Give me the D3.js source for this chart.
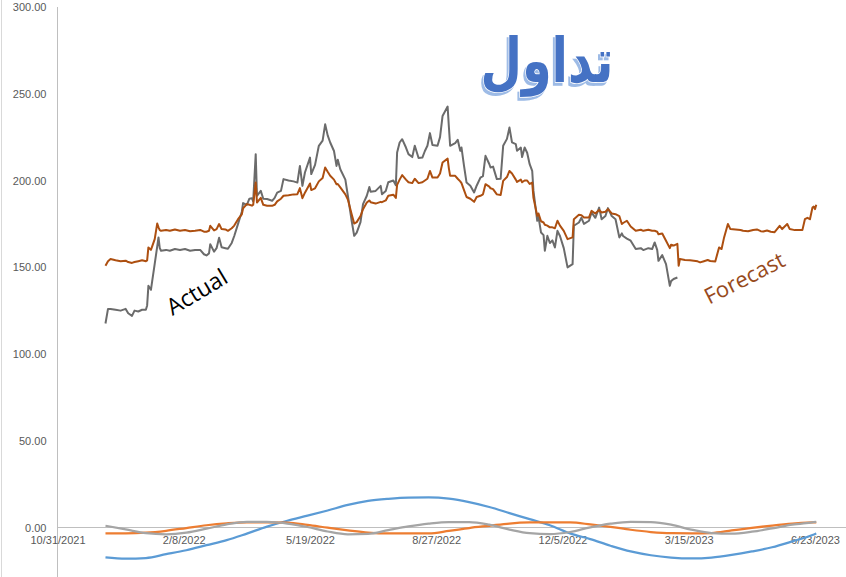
<!DOCTYPE html>
<html><head><meta charset="utf-8">
<script src="https://cdn.jsdelivr.net/npm/d3@7/dist/d3.min.js"></script>
<style>html,body{margin:0;padding:0;background:#fff;}svg{display:block;}</style>
</head><body>
<svg id="chart" width="846" height="577"></svg>
<script>
const dates = ["2021-12-08","2021-12-10","2021-12-12","2021-12-16","2021-12-20","2021-12-24","2021-12-26","2021-12-29","2021-12-31","2022-01-03","2022-01-06","2022-01-09","2022-01-10","2022-01-11","2022-01-13","2022-01-14","2022-01-16","2022-01-18","2022-01-19","2022-01-20","2022-01-21","2022-01-25","2022-01-28","2022-02-01","2022-02-05","2022-02-09","2022-02-13","2022-02-17","2022-02-21","2022-02-24","2022-02-26","2022-02-28","2022-03-01","2022-03-04","2022-03-06","2022-03-08","2022-03-10","2022-03-13","2022-03-15","2022-03-18","2022-03-20","2022-03-23","2022-03-26","2022-03-27","2022-03-30","2022-04-01","2022-04-03","2022-04-04","2022-04-06","2022-04-07","2022-04-10","2022-04-12","2022-04-15","2022-04-19","2022-04-21","2022-04-23","2022-04-26","2022-04-28","2022-05-02","2022-05-06","2022-05-09","2022-05-11","2022-05-13","2022-05-15","2022-05-19","2022-05-20","2022-05-23","2022-05-26","2022-05-29","2022-05-31","2022-06-02","2022-06-04","2022-06-07","2022-06-09","2022-06-10","2022-06-12","2022-06-16","2022-06-18","2022-06-21","2022-06-23","2022-06-25","2022-06-28","2022-06-30","2022-07-03","2022-07-05","2022-07-06","2022-07-10","2022-07-14","2022-07-15","2022-07-18","2022-07-20","2022-07-24","2022-07-26","2022-07-27","2022-07-29","2022-07-31","2022-08-03","2022-08-05","2022-08-08","2022-08-10","2022-08-13","2022-08-16","2022-08-18","2022-08-20","2022-08-22","2022-08-24","2022-08-28","2022-08-30","2022-09-01","2022-09-05","2022-09-06","2022-09-07","2022-09-11","2022-09-13","2022-09-15","2022-09-16","2022-09-18","2022-09-20","2022-09-23","2022-09-26","2022-09-28","2022-10-01","2022-10-03","2022-10-05","2022-10-08","2022-10-09","2022-10-11","2022-10-14","2022-10-17","2022-10-19","2022-10-22","2022-10-24","2022-10-26","2022-10-29","2022-10-30","2022-11-02","2022-11-03","2022-11-05","2022-11-07","2022-11-09","2022-11-11","2022-11-12","2022-11-15","2022-11-16","2022-11-18","2022-11-20","2022-11-21","2022-11-23","2022-11-25","2022-11-27","2022-11-29","2022-12-01","2022-12-03","2022-12-06","2022-12-09","2022-12-13","2022-12-14","2022-12-18","2022-12-20","2022-12-22","2022-12-26","2022-12-28","2022-12-31","2023-01-03","2023-01-05","2023-01-08","2023-01-10","2023-01-13","2023-01-16","2023-01-19","2023-01-21","2023-01-22","2023-01-25","2023-01-28","2023-02-01","2023-02-05","2023-02-07","2023-02-11","2023-02-14","2023-02-16","2023-02-18","2023-02-19","2023-02-22","2023-02-25","2023-02-28","2023-03-01","2023-03-03","2023-03-06","2023-03-07","2023-03-08","2023-03-12","2023-03-16","2023-03-19","2023-03-22","2023-03-24","2023-03-27","2023-03-30","2023-04-01","2023-04-05","2023-04-08","2023-04-10","2023-04-12","2023-04-15","2023-04-17","2023-04-21","2023-04-25","2023-04-27","2023-05-01","2023-05-05","2023-05-08","2023-05-11","2023-05-13","2023-05-16","2023-05-19","2023-05-22","2023-05-26","2023-05-28","2023-06-01","2023-06-03","2023-06-07","2023-06-13","2023-06-15","2023-06-17","2023-06-19","2023-06-21","2023-06-22","2023-06-23","2023-06-24"];

const actual = [117.6,126,126,125.5,125,126,123.5,122,125,124.5,125.5,125.5,128,139.3,137,142,152,162,167.2,161,159.5,160,159.5,160.5,160,160.5,159.5,160,160,157.5,156.8,158,163.3,159,161,167,161.5,161,160.7,164,168,175,182,187,186,189.5,189.8,188,215.2,191.2,194,189.5,189.3,188.3,190,193,194,200.8,200,199.5,198.8,208.4,196.9,204.6,213.2,203.7,209,220,223,232.4,226,221.9,217,208.4,212,206.5,200.5,191.2,176.8,168.1,170,176,186.4,191.2,196.3,193.5,194,196.9,192.1,194,199,200,197.3,216.1,221.9,223.8,219,215.2,213.5,220,213,213.2,217,220,227.3,220.5,220,225,237.2,242.6,231,220,221.5,223.5,217.1,219,208.4,198.8,197,193.1,197,201.7,202.5,214.2,209.5,207.5,208,200.8,201,220,224,230.5,222,221,217.1,219,213.5,219,216,209.4,205.6,194,176.8,179,170,168.5,159.5,168.1,164,165.5,161.4,171,168,161,149.9,151.8,173.9,175.8,178.5,175,176.8,181.6,178.5,184.4,177.7,179.5,184.1,179.5,177.7,167.2,169.5,168,166.5,165.3,160.5,161,159.9,161,160.5,164.3,160,153.7,157,151.8,139.3,142,143.2,144.1,null,null,null,null,null,null,null,null,null,null,null,null,null,null,null,null,null,null,null,null,null,null,null,null,null,null,null,null,null,null,null,null,null,null,null,null,null,null,null,null];

const forecast = [150.9,153.5,154.7,154,153.5,153.8,153,152.5,153,153.5,154,153.5,154,161.4,160,162,166.2,175.2,173,171.4,171,171.5,171,171.8,171,171.5,170.8,171,171.5,170.5,170.5,171,173.9,171.2,172,174.9,172,171.8,171,172.5,174,177.7,180.5,184,186.4,186,185.5,186,198.8,187.3,190,186,185.5,185.4,186,188,189.5,191.2,191.5,192,192.1,195.6,189.8,193,198.3,194.5,195.5,199.5,201.5,207.5,205,202.7,200.5,197.9,198,196,192,189,180.6,175.2,176,179.5,183.5,187.3,188.5,187.5,186.7,187.7,187.5,188.5,191.2,191.8,190,197.5,200.5,203.1,200.5,199,198.5,201,198.5,199,200,201,205.5,201.7,201.7,204,210.4,212.6,207,202.7,202.7,201,199.5,198.5,194.5,190.5,189.5,187.7,190.5,191.2,192,197.9,196.5,195.5,195,192,191.6,199.8,202,205.5,204,200.5,199.2,200.5,199,200,200,198,198.8,190,179.6,181,176.5,175.8,174.5,174,173,173,172.5,176.8,174,171,166.2,167.2,177.7,180.2,180,178.7,178.7,182.5,181,183,181.6,182,183.5,181,180.6,179.5,174.9,175.5,176.8,173.5,171,171.6,171,171.6,171,171,170.5,169,169.5,165.3,161,163,162.5,163.5,150.9,154.7,154.2,154,153.7,153.4,152.8,153.5,154.2,153.6,153.3,161.4,160.5,167.2,174.9,172,171.8,171.5,171,170.8,171.5,171.8,170.8,170.6,171.2,170.5,170.2,173.9,172,174.9,172,171.4,171.4,177.7,178.5,177.7,184.4,185,183.5,186];

const waveDates = ["2021-12-08","2021-12-24","2022-01-09","2022-01-25","2022-02-10","2022-02-26","2022-03-14","2022-03-30","2022-04-15","2022-05-01","2022-05-17","2022-06-02","2022-06-18","2022-07-04","2022-07-20","2022-08-05","2022-08-21","2022-09-06","2022-09-22","2022-10-08","2022-10-24","2022-11-09","2022-11-25","2022-12-11","2022-12-27","2023-01-12","2023-01-28","2023-02-13","2023-03-01","2023-03-17","2023-04-02","2023-04-18","2023-05-04","2023-05-20","2023-06-05","2023-06-21","2023-06-24"];
const waveBlue = [-17.2,-18.0,-17.6,-15.4,-13.1,-10.2,-7.3,-3.5,0.5,3.9,6.8,9.8,13.0,15.3,16.5,17.2,17.3,16.6,14.6,11.8,8.3,4.8,1.3,-3.4,-6.7,-10.5,-13.8,-16.0,-17.3,-17.8,-17.3,-15.8,-13.8,-11.4,-8.0,-4.3,-3.4];
const waveOrange = [-3.4,-3.4,-3.0,-1.9,-0.3,1.3,2.4,3.0,3.0,2.8,1.5,-0.1,-1.6,-2.9,-3.4,-3.4,-3.4,-2.0,-0.3,1.0,2.3,2.9,3.0,2.9,1.8,0.4,-1.3,-2.6,-3.3,-3.4,-3.2,-1.7,-0.2,1.1,2.2,2.9,3.0];
const waveGray = [1.0,-1.1,-3.3,-3.9,-3.0,-0.7,1.8,3.2,3.2,2.3,0.3,-2.3,-3.9,-3.7,-1.5,0.6,2.2,3.1,3.1,1.6,-1.2,-3.3,-3.8,-2.6,0.1,2.2,3.3,3.1,1.6,-1.2,-3.2,-3.5,-2.4,-0.5,1.6,3.0,3.3];

const yTicks = [0,50,100,150,200,250,300];
const xTickLabels = ["10/31/2021","2/8/2022","5/19/2022","8/27/2022","12/5/2022","3/15/2023","6/23/2023"];
const titleText = "تداول";
const labelActual = "Actual";
const labelForecast = "Forecast";

const parse = d3.timeParse("%Y-%m-%d");
const fmtTick = d3.timeFormat("%-m/%-d/%Y");
const svg = d3.select("#chart");

const x = d3.scaleTime().domain([parse("2021-10-31"), parse("2023-06-23")]).range([57.5, 815]);
const y = d3.scaleLinear().domain([0, 300]).range([527.5, 7]);

// filter for the title's light-blue offset shadow
const defs = svg.append("defs");
const f = defs.append("filter").attr("id","titleShadow").attr("x","-20%").attr("y","-20%").attr("width","140%").attr("height","140%");
f.append("feOffset").attr("in","SourceAlpha").attr("dx",-3).attr("dy",3).attr("result","off");
f.append("feFlood").attr("flood-color","#9DBBE6").attr("result","fl");
f.append("feComposite").attr("in","fl").attr("in2","off").attr("operator","in").attr("result","sh");
const fm = f.append("feMerge");
fm.append("feMergeNode").attr("in","sh");
fm.append("feMergeNode").attr("in","SourceGraphic");

// chart border (left)
svg.append("line").attr("x1",1.5).attr("x2",1.5).attr("y1",0).attr("y2",577).attr("stroke","#d9d9d9").attr("stroke-width",1);

// Y axis
const yAxis = d3.axisLeft(y).tickValues(yTicks).tickFormat(d3.format(".2f")).tickSize(0).tickPadding(11);
const gy = svg.append("g").attr("transform","translate(57.5,0)").call(yAxis);
gy.select(".domain").attr("d","M0,7V577").attr("stroke","#bfbfbf");
gy.selectAll("text").attr("fill","#595959").style("font-family","'Liberation Sans', Arial, sans-serif").style("font-size","11px");

// X axis at y=0
const xTickDates = xTickLabels.map(s => d3.timeParse("%m/%d/%Y")(s));
const xAxis = d3.axisBottom(x).tickValues(xTickDates).tickFormat(fmtTick).tickSize(0).tickPadding(9);
const gx = svg.append("g").attr("transform",`translate(0,${y(0)})`).call(xAxis);
gx.select(".domain").attr("d","M57.5,0H846").attr("stroke","#bfbfbf");
gx.selectAll("text").attr("fill","#595959").style("font-family","'Liberation Sans', Arial, sans-serif").style("font-size","11px");

// waves
const wave = (vals) => d3.line().x((d,i)=>x(parse(waveDates[i]))).y(d=>y(d)).curve(d3.curveMonotoneX)(vals);
[[waveBlue,"#5B9BD5"],[waveOrange,"#ED7D31"],[waveGray,"#A5A5A5"]].forEach(([v,c])=>{
  svg.append("path").attr("d",wave(v)).attr("fill","none").attr("stroke",c).attr("stroke-width",2.25).attr("stroke-linejoin","round");
});

// main series
const line = d3.line().defined(d=>d.v!=null).x(d=>x(d.t)).y(d=>y(d.v));
const actData = dates.map((d,i)=>({t:parse(d), v:actual[i]}));
const fcData = dates.map((d,i)=>({t:parse(d), v:forecast[i]}));
svg.append("path").attr("d",line(actData)).attr("fill","none").attr("stroke","#6b6b6b").attr("stroke-width",2).attr("stroke-linejoin","round");
svg.append("path").attr("d",line(fcData)).attr("fill","none").attr("stroke","#ad4f10").attr("stroke-width",2).attr("stroke-linejoin","round");

// title
svg.append("text").attr("transform","translate(547,82) scale(0.77,1)").attr("text-anchor","middle")
  .attr("font-family","'DejaVu Sans', sans-serif").attr("font-weight","bold").attr("font-size",62)
  .attr("fill","#4472C4").attr("stroke","#ffffff").attr("stroke-width",1.5).attr("paint-order","stroke")
  .attr("filter","url(#titleShadow)").text(titleText);

// annotations
svg.append("text").attr("transform","translate(201,299) rotate(-31)").attr("text-anchor","middle").attr("font-family","'Open Sans', sans-serif").attr("font-size",23).attr("fill","#000").text(labelActual);
svg.append("text").attr("transform","translate(748,285) rotate(-27)").attr("text-anchor","middle").attr("font-family","'Open Sans', sans-serif").attr("font-size",22).attr("fill","#974a1c").text(labelForecast);
</script>
</body></html>
